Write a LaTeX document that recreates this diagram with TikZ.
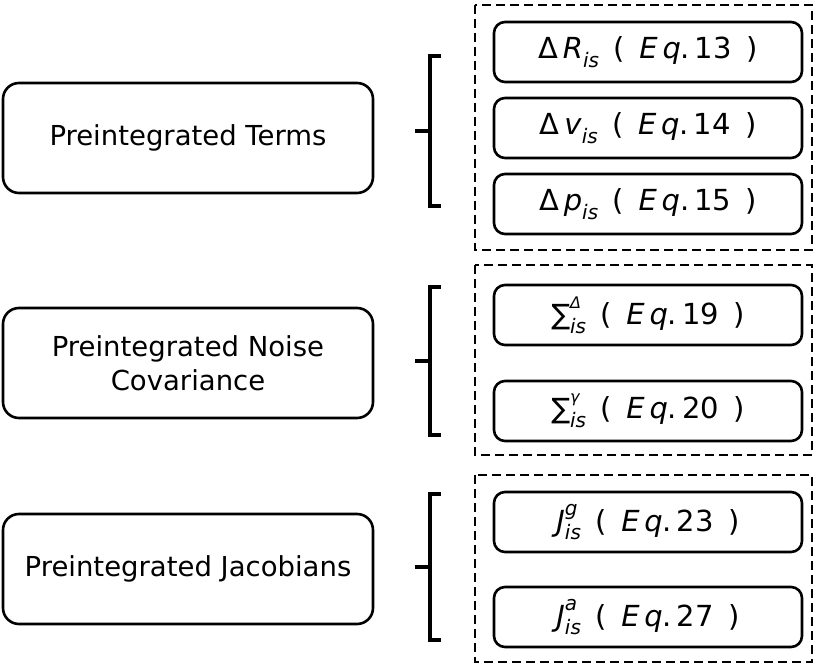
\documentclass[tikz,border=0pt]{standalone}
\usepackage{fontspec}
\setmainfont{DejaVu Sans}
\newcommand{\sbs}[1]{\raisebox{-0.3em}{\fontsize{20}{20}\selectfont\itshape #1}}
\newcommand{\eqr}[1]{\enspace(\enspace\textit{E\,q}.\,#1\enspace)}
\newcommand{\sumss}[1]{{\fontsize{28}{30}\selectfont ∑}\rlap{\raisebox{0.55em}{\fontsize{16}{18}\selectfont\itshape #1}}\raisebox{-0.3em}{\fontsize{20}{20}\selectfont\itshape is}}
\begin{document}
\begin{tikzpicture}[x=1pt,y=-1pt,
  big/.style={draw,line width=2.6pt,rounded corners=16pt,minimum width=370pt,minimum height=110pt,align=center,font=\fontsize{27.5}{34}\selectfont},
  small/.style={draw,line width=2.6pt,rounded corners=11pt,minimum width=308pt,minimum height=60pt,font=\fontsize{29}{30}\selectfont},
  grp/.style={draw,line width=1.2pt,dash pattern=on 9pt off 5pt},
  br/.style={line width=3.4pt}]
\useasboundingbox (0,0) rectangle (820,666);
\node[big] (t1) at (188,138) {Preintegrated Terms};
\node[big] (t2) at (188,363) {Preintegrated Noise\\Covariance};
\node[big] (t3) at (188,569) {Preintegrated Jacobians};
\draw[grp] (475,5) rectangle (812,250);
\draw[grp] (475,265) rectangle (812,455);
\draw[grp] (475,475) rectangle (812,662);
\node[small] (r1) at (648,52) {Δ\,\textit{R}\sbs{is}\eqr{13}};
\node[small] (r2) at (648,128) {Δ\,\textit{v}\sbs{is}\eqr{14}};
\node[small] (r3) at (648,204) {Δ\,\textit{p}\sbs{is}\eqr{15}};
\node[small] (r4) at (648,315) {\sumss{Δ}\eqr{19}};
\node[small] (r5) at (648,411) {\sumss{γ}\eqr{20}};
\node[small] (r6) at (648,522) {\textit{J}\rlap{\raisebox{0.55em}{\fontsize{20}{20}\selectfont\itshape g}}\sbs{is}\eqr{23}};
\node[small] (r7) at (648,617) {\textit{J}\rlap{\raisebox{0.55em}{\fontsize{20}{20}\selectfont\itshape a}}\sbs{is}\eqr{27}};
\foreach \a/\b/\m in {56/206/131, 287/435/361, 494/640/567}{
  \draw[br] (441,\a) -- (430,\a) -- (430,\b) -- (441,\b);
  \draw[br] (415,\m) -- (430,\m);
}
\end{tikzpicture}
\end{document}
